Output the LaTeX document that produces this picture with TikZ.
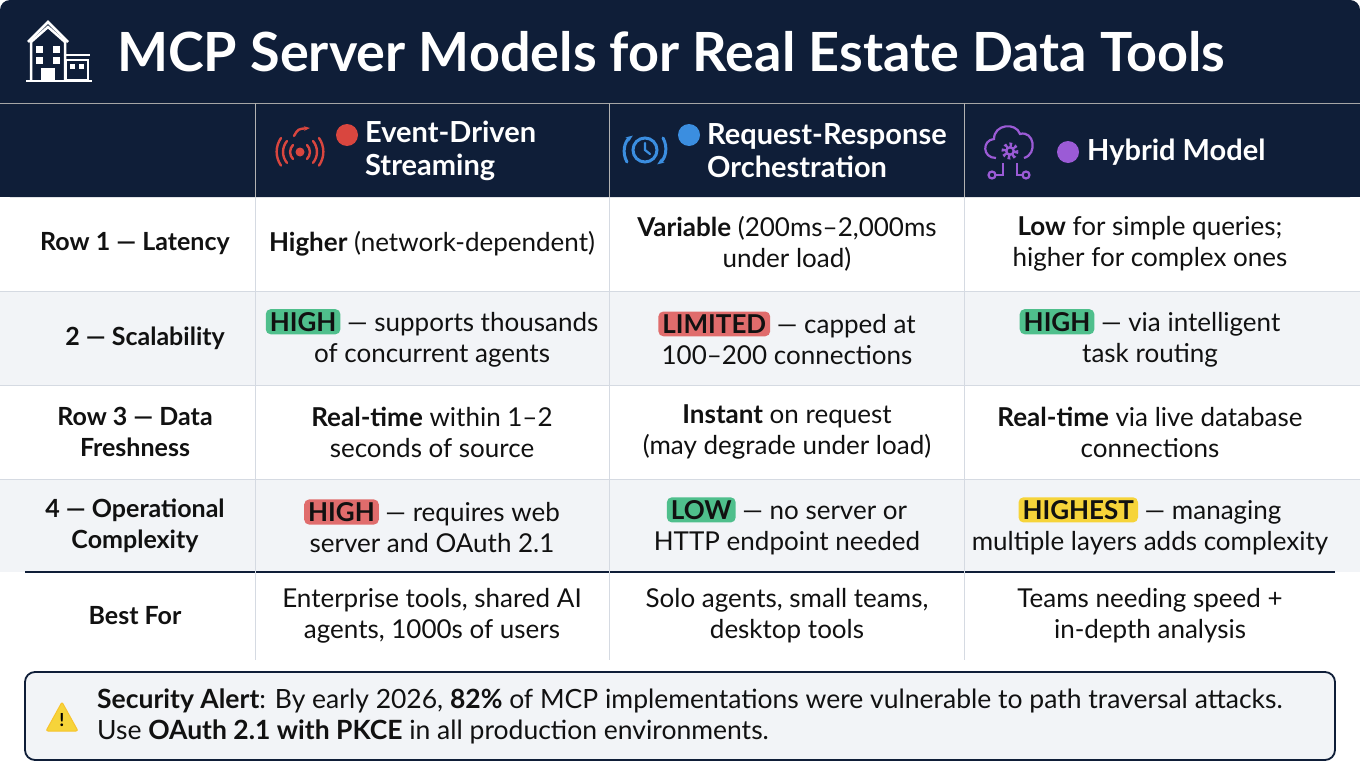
\documentclass[tikz,border=0pt]{standalone}
\usepackage{fontspec}
\setmainfont{Lato}
\usetikzlibrary{arrows.meta}
\definecolor{navy}{HTML}{0F1E38}
\definecolor{rowgray}{HTML}{F2F4F7}
\definecolor{gridl}{HTML}{D5DAE2}
\definecolor{txt}{HTML}{111111}
\definecolor{bgreen}{HTML}{4FBF8C}
\definecolor{bred}{HTML}{E06C6C}
\definecolor{byel}{HTML}{F6D43A}
\definecolor{ired}{HTML}{D9463F}
\definecolor{iblue}{HTML}{3B8EE0}
\definecolor{ipur}{HTML}{9B5BD6}
\begin{document}
\begin{tikzpicture}[x=1pt,y=-1pt,
  cell/.style={align=center,text=txt,font=\fontsize{26}{31}\selectfont,inner sep=0},
  hcell/.style={align=left,text=white,font=\fontsize{29}{33}\selectfont\bfseries,inner sep=0,anchor=west},
  badge/.style={rounded corners=5pt,inner xsep=4pt,inner ysep=3pt,text=txt,font=\fontsize{26}{30}\selectfont\bfseries},
  dot/.style={circle,inner sep=0,minimum size=22pt}]
\useasboundingbox (0,0) rectangle (1360,784);
\fill[white] (0,0) rectangle (1360,784);
% header
\fill[navy,rounded corners=10pt] (0,0) rectangle (1360,197);
\fill[navy] (0,100) rectangle (1360,197);
\draw[gray!70,line width=0.8] (0,103) -- (1360,103);
% rows
\fill[rowgray] (0,291) rectangle (1360,385);
\fill[rowgray] (0,479) rectangle (1360,572);
\foreach \y in {291,385,479} \draw[gridl] (0,\y) -- (1360,\y);
\draw[navy,line width=1.6] (25,572) -- (1335,572);
\foreach \x in {255,609,964} {\draw[gray!60] (\x,103) -- (\x,197); \draw[gridl] (\x,197) -- (\x,660);}
% title icon (building)
\begin{scope}[white,line width=2.5]
\draw (28,42) -- (48,22) -- (68,42);
\draw (31,80) -- (31,42) -- (48,27) -- (65,42) -- (65,80);
\fill (36,46) rectangle (43,53); \fill (53,46) rectangle (60,53);
\fill (36,57) rectangle (43,64); \fill (53,57) rectangle (60,64);
\fill (41,68) rectangle (55,80);
\draw (66,60) rectangle (88,80); \draw (64,55)--(90,55);
\fill (70,64) rectangle (75,69); \fill (79,64) rectangle (84,69);
\draw (26,81) -- (92,81);
\end{scope}
\node[anchor=west,text=white,font=\fontsize{54}{58}\selectfont\bfseries,inner sep=0] (title) at (117,52) {MCP Server Models for Real Estate Data Tools};
% column header icons
\begin{scope}[ired,line width=2.4,line cap=round]
\fill (300,152) circle (4.5);
\draw (293,145) arc (225:135:9.9); \draw (307,145) arc (-45:45:9.9);
\draw (287,141) arc (220:140:17); \draw (313,141) arc (-40:40:17);
\draw (281,138) arc (215:145:24); \draw (319,138) arc (-35:35:24);
\draw[-{Stealth[length=6pt]}] (294,136) .. controls (298,129) .. (310,128);
\end{scope}
\node[dot,fill=ired] (d1) at (347,135) {};
\node[hcell] (h1) at (365,151) {Event-Driven\\Streaming};
\begin{scope}[iblue,line width=3,line cap=round]
\draw (645,150) circle (12);
\draw[line width=2.2] (645,143) -- (645,150) -- (650,154);
\draw[-{Stealth[length=7pt]}] (627,162) arc (150:235:20);
\draw[-{Stealth[length=7pt]}] (663,138) arc (-30:55:20);
\end{scope}
\node[dot,fill=iblue] (d2) at (689,135) {};
\node[hcell] (h2) at (707,151) {Request-Response\\Orchestration};
\begin{scope}[ipur,line width=2.2]
\draw (996,158) .. controls (982,158) and (982,140) .. (994,139) .. controls (994,124) and (1016,122) .. (1020,134) .. controls (1034,130) and (1038,154) .. (1024,158);
\draw[line width=4,dash pattern=on 2.5pt off 2.5pt] (1010,151) circle (6.5);
\fill (1010,151) circle (5);
\fill[navy] (1010,151) circle (2.3);
\draw (992,175) circle (3.5); \draw (995.5,175) -- (1003,175) -- (1003,163);
\draw (1026,175) circle (3.5); \draw (1022.5,175) -- (1017,175) -- (1017,163);
\end{scope}
\node[dot,fill=ipur] (d3) at (1068,152) {};
\node[hcell] (h3) at (1087,152) {Hybrid Model};
% row labels
\tikzset{lab/.style={cell,font=\fontsize{25}{31}\selectfont\bfseries}}
\node[lab] (r1) at (135,244) {Row 1 — Latency};
\node[lab] (r2) at (145,338) {2 — Scalability};
\node[lab] (r3) at (135,432) {Row 3 — Data\\Freshness};
\node[lab] (r4) at (135,526) {4 — Operational\\Complexity};
\node[lab] (r5) at (135,616) {Best For};
% row 1
\node[cell] (c11) at (432,244) {\textbf{Higher} (network-dependent)};
\node[cell] (c12) at (787,244) {\textbf{Variable} (200ms–2,000ms\\under load)};
\node[cell] (c13) at (1150,244) {\textbf{Low} for simple queries;\\higher for complex ones};
% row 2
\node[cell] (c21) at (432,338) {\tikz[baseline=(b.base)]\node[badge,fill=bgreen](b){HIGH}; — supports thousands\\of concurrent agents};
\node[cell] (c22) at (787,338) {\tikz[baseline=(b.base)]\node[badge,fill=bred](b){LIMITED}; — capped at\\100–200 connections};
\node[cell] (c23) at (1150,338) {\tikz[baseline=(b.base)]\node[badge,fill=bgreen](b){HIGH}; — via intelligent\\task routing};
% row 3
\node[cell] (c31) at (432,432) {\textbf{Real-time} within 1–2\\seconds of source};
\node[cell] (c32) at (787,432) {\textbf{Instant} on request\\(may degrade under load)};
\node[cell] (c33) at (1150,432) {\textbf{Real-time} via live database\\connections};
% row 4
\node[cell] (c41) at (432,526) {\tikz[baseline=(b.base)]\node[badge,fill=bred](b){HIGH}; — requires web\\server and OAuth 2.1};
\node[cell] (c42) at (787,526) {\tikz[baseline=(b.base)]\node[badge,fill=bgreen](b){LOW}; — no server or\\HTTP endpoint needed};
\node[cell] (c43) at (1150,526) {\tikz[baseline=(b.base)]\node[badge,fill=byel](b){HIGHEST}; — managing\\multiple layers adds complexity};
% best for
\node[cell] (c51) at (432,616) {Enterprise tools, shared AI\\agents, 1000s of users};
\node[cell] (c52) at (787,616) {Solo agents, small teams,\\desktop tools};
\node[cell] (c53) at (1150,616) {Teams needing speed +\\in-depth analysis};
% alert
\draw[navy,line width=1.8,fill=rowgray,rounded corners=10pt] (25,672) rectangle (1335,760);
\fill[byel,rounded corners=2pt] (62,702) -- (78,731) -- (46,731) -- cycle;
\draw[byel!80!orange,line width=1,rounded corners=2pt] (62,702) -- (78,731) -- (46,731) -- cycle;
\node[font=\fontsize{18}{18}\selectfont\bfseries,inner sep=0] (ex) at (62,720) {!};
\node[anchor=west,align=left,text=txt,font=\fontsize{26.5}{31}\selectfont,inner sep=0] (alert) at (97,716) {\textbf{Security Alert}: By early 2026, \textbf{82\%} of MCP implementations were vulnerable to path traversal attacks.\\Use \textbf{OAuth 2.1 with PKCE} in all production environments.};
\end{tikzpicture}
\end{document}
